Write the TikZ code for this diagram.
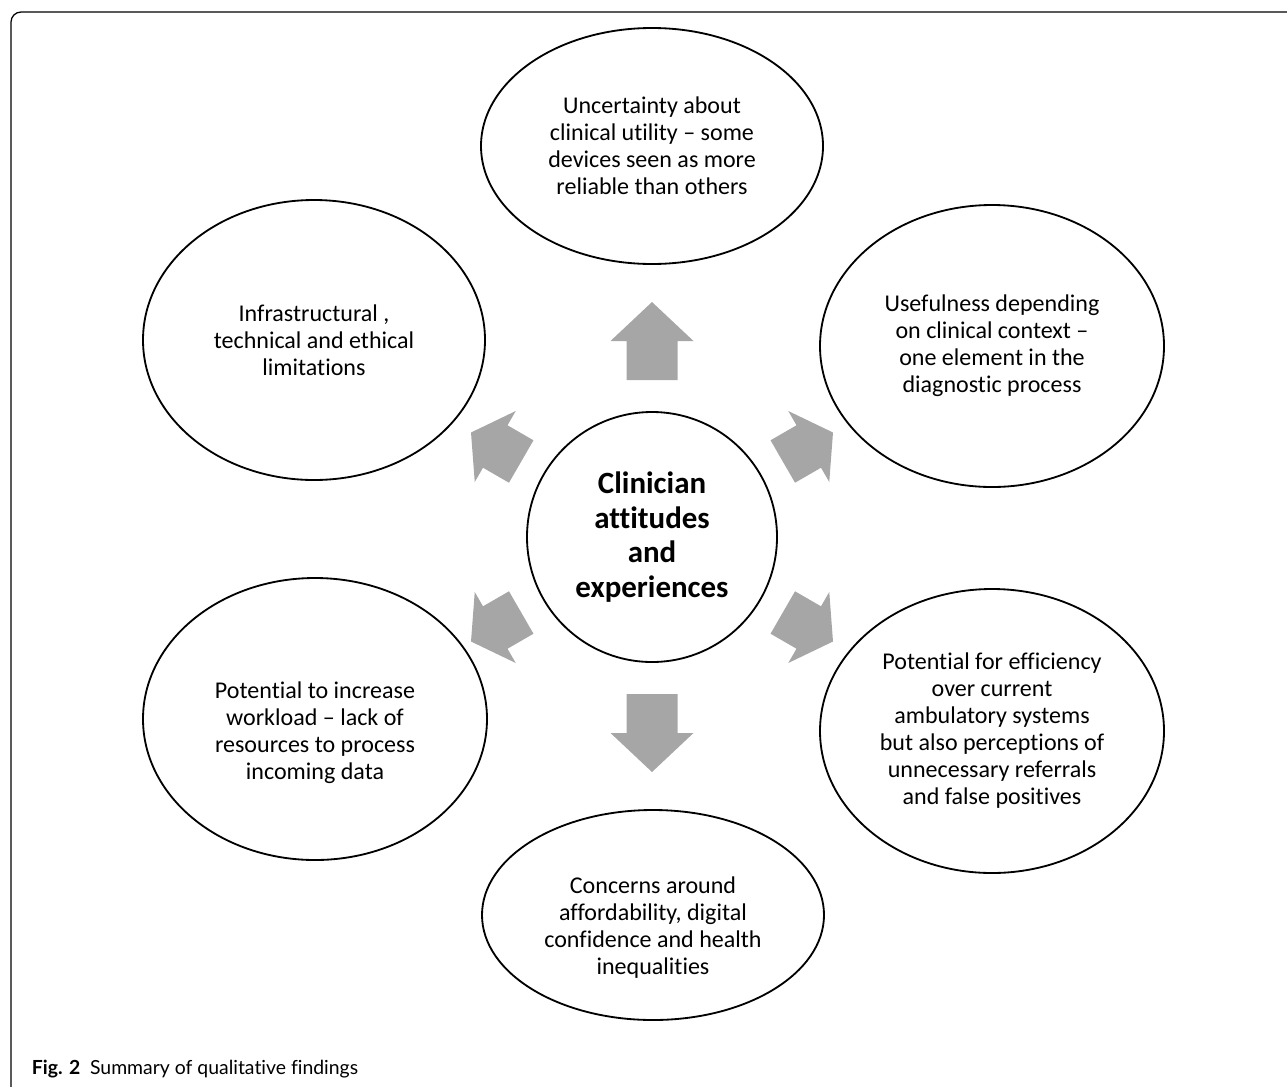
\documentclass[tikz,border=0pt]{standalone}
\usepackage{fontspec}
\setmainfont{Carlito}[Ligatures={TeX,NoCommon}]
\newfontfamily\capfont{Lato}[Ligatures={TeX,NoCommon}]
\definecolor{arrowgray}{RGB}{166,166,166}
\tikzset{
topic/.style={align=center,font=\fontsize{17.1pt}{19.2pt}\selectfont},
core/.style={align=center,font=\bfseries\fontsize{22pt}{24.5pt}\selectfont},
rim/.style={draw,line width=1.3pt,fill=white},
}
\begin{document}
\begin{tikzpicture}[x=0.025cm,y=-0.025cm]
\useasboundingbox (0,0) rectangle (1287,1086);
\path
(652,537) coordinate (O)
(652,146) coordinate (T)
(992,346) coordinate (TR)
(992,731) coordinate (BR)
(653,915) coordinate (B)
(315,719) coordinate (BL)
(314,340) coordinate (TL)
;
% open frame, top and left side only
\draw[line width=0.9pt,rounded corners=0.25cm] (11,1100) -- (11,12) -- (1300,12);
% the six findings and the core
\draw[rim] (T) ellipse[x radius=171,y radius=118];
\draw[rim] (TR) ellipse[x radius=172,y radius=141];
\draw[rim] (BR) ellipse[x radius=172,y radius=142];
\draw[rim] (B) ellipse[x radius=171,y radius=105];
\draw[rim] (BL) ellipse[x radius=172,y radius=141];
\draw[rim] (TL) ellipse[x radius=171,y radius=140];
\draw[rim] (O) circle[radius=125];
% block arrows: angle/base/neck/tip/half shaft/half head
\foreach \a/\r/\n/\t/\w/\h in {90/157/196/235/25.5/41.5,-90/157/196/235/25.5/41.5,
  30/151/181/209/24.5/41,-30/151/181/209/24.5/41,150/151/181/209/24.5/41,-150/151/181/209/24.5/41}
\fill[arrowgray,shift={(O)},rotate=\a] (\r,-\w) -- (\n,-\w) -- (\n,-\h) -- (\t,0)
  -- (\n,\h) -- (\n,\w) -- (\r,\w) -- cycle;
\node[core] (hub) at (O) {Clinician\\attitudes\\and\\experiences};
\node[topic] (utility) at (T) {Uncertainty about\\clinical utility – some\\devices seen as more\\reliable than others};
\node[topic] (context) at (TR) {Usefulness depending\\on clinical context –\\one element in the\\diagnostic process};
\node[topic] (efficiency) at (BR) {Potential for efficiency\\over current\\ambulatory systems\\but also perceptions of\\unnecessary referrals\\and false positives};
\node[topic] (afford) at ([yshift=-0.32cm]B) {Concerns around\\affordability, digital\\confidence and health\\inequalities};
\node[topic] (workload) at ([yshift=-0.35cm]BL) {Potential to increase\\workload – lack of\\resources to process\\incoming data};
\node[topic] (limits) at (TL) {Infrastructural ,\\technical and ethical\\limitations};
\node[anchor=base west,font=\capfont\fontsize{13.8pt}{16pt}\selectfont] (caption) at (27,1074)
  {\textbf{Fig. 2}\hspace{0.25em} Summary of qualitative findings};
\end{tikzpicture}
\end{document}
